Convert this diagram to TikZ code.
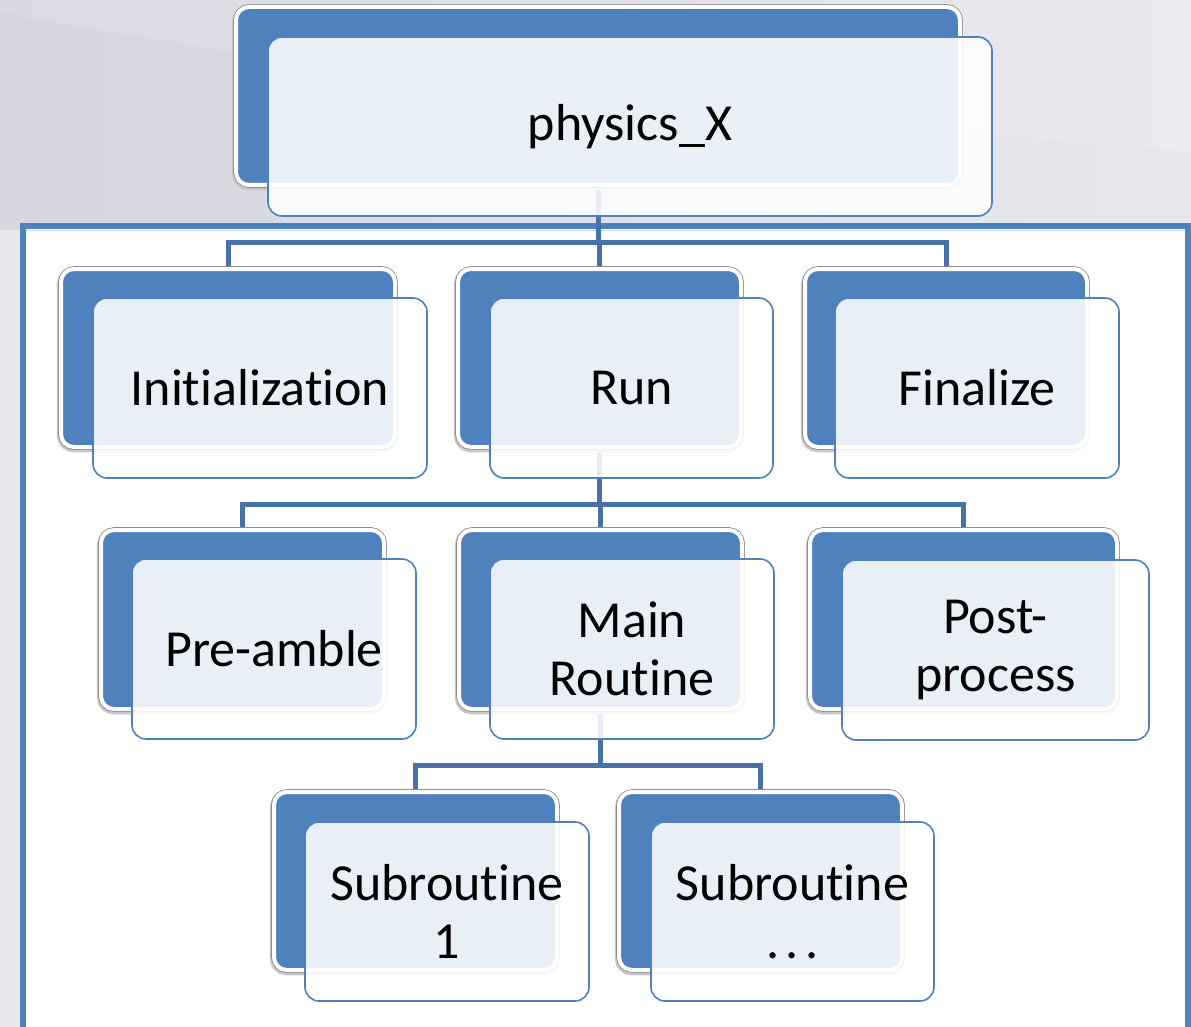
\documentclass[tikz,border=0pt]{standalone}
\usepackage{fontspec}
\setmainfont{Carlito}[Ligatures=NoCommon]
\definecolor{boxblue}{HTML}{4F81BD}
\definecolor{linkblue}{HTML}{4672A9}
\definecolor{bgleft}{HTML}{D6D6E0}
\definecolor{bgright}{HTML}{E8E8EE}
\pgfdeclarelayer{frame}
\pgfdeclarelayer{links}
\pgfsetlayers{frame,links,main}
\begin{document}
\begin{tikzpicture}[x=1pt,y=-1pt,
  backbox/.style={rectangle, rounded corners=13pt, fill=boxblue, draw=white,
    line width=4pt, inner sep=0pt, outer sep=0pt,
    preaction={draw=black!22, line width=7pt,
      transform canvas={xshift=-0.6pt,yshift=-1.8pt}},
    preaction={draw=black!45, line width=5.6pt}},
  frontbox/.style={rectangle, rounded corners=14pt, draw=boxblue,
    line width=1.6pt, fill=white, fill opacity=0.88, text opacity=1,
    inner sep=0pt, outer sep=0pt, align=center, text=black,
    font=\fontsize{52}{58}\selectfont},
  link/.style={draw=linkblue, line width=5pt, line join=miter}]
\useasboundingbox (0,0) rectangle (1191,1027);

% page background and frame
\begin{pgfonlayer}{frame}
  \shade[left color=bgleft, right color=bgright] (0,0) rectangle (1191,1027);
  \fill[white, opacity=0.10] (0,12) .. controls (250,60) and (600,110) .. (1191,150)
    -- (1191,0) -- (0,0) -- cycle;
  \fill[white, opacity=0.45] (0,230) rectangle (20,1027);
  \draw[draw=boxblue, line width=6pt, fill=white] (23,226) rectangle (1188,1060);
  \draw[draw=boxblue!30, line width=1pt] (26,230.5) -- (1185,230.5);
\end{pgfonlayer}

% back plates
\node[backbox, minimum width=724, minimum height=178] (topB)  at (598,96)      {};
\node[backbox, minimum width=334, minimum height=178] (initB) at (228,358)     {};
\node[backbox, minimum width=283, minimum height=178] (runB)  at (599.5,358)   {};
\node[backbox, minimum width=282, minimum height=178] (finB)  at (946,358)     {};
\node[backbox, minimum width=283, minimum height=179] (preB)  at (242.5,619.5) {};
\node[backbox, minimum width=283, minimum height=179] (mainB) at (600.5,619.5) {};
\node[backbox, minimum width=307, minimum height=179] (postB) at (963.5,619.5) {};
\node[backbox, minimum width=283, minimum height=178] (subaB) at (415.5,881)   {};
\node[backbox, minimum width=283, minimum height=178] (subnB) at (760.5,881)   {};

% labelled cards
\node[frontbox, minimum width=724, minimum height=179] (topF)  at (630,126.5) {physics\_X};
\node[frontbox, minimum width=334, minimum height=180] (initF) at (260,388)    {Initialization};
\node[frontbox, minimum width=283, minimum height=180] (runF)  at (631.5,388)  {Run};
\node[frontbox, minimum width=284, minimum height=180] (finF)  at (977,388)    {Finalize};
\node[frontbox, minimum width=284, minimum height=180] (preF)  at (274,649)    {Pre-amble};
\node[frontbox, minimum width=284, minimum height=180] (mainF) at (632,649)    {Main\\Routine};
\node[frontbox, minimum width=307, minimum height=180] (postF) at (995.5,650)  {Post-\\process};
\node[frontbox, minimum width=284, minimum height=179] (subaF) at (447,911.5)  {Subroutine\\1};
\node[frontbox, minimum width=283, minimum height=179] (subnF) at (792.5,911.5){Subroutine\\.\kern.12em.\kern.12em.};

% tree connectors
\coordinate (barA) at (0,242);
\coordinate (barB) at (0,504.5);
\coordinate (barC) at (0,765.5);
\begin{pgfonlayer}{links}
  \draw[link] (topB.center) -- (topB.center |- barA);
  \draw[link] (initB.north) -- (initB.north |- barA) -- (finB.north |- barA) -- (finB.north);
  \draw[link] (runB.north |- barA) -- (runB.north);
  \draw[link] (runB.center) -- (runB.center |- barB);
  \draw[link] (preB.north) -- (preB.north |- barB) -- (postB.north |- barB) -- (postB.north);
  \draw[link] (mainB.north |- barB) -- (mainB.north);
  \draw[link] (mainB.center) -- (mainB.center |- barC);
  \draw[link] (subaB.north) -- (subaB.north |- barC) -- (subnB.north |- barC) -- (subnB.north);
\end{pgfonlayer}
\end{tikzpicture}
\end{document}
